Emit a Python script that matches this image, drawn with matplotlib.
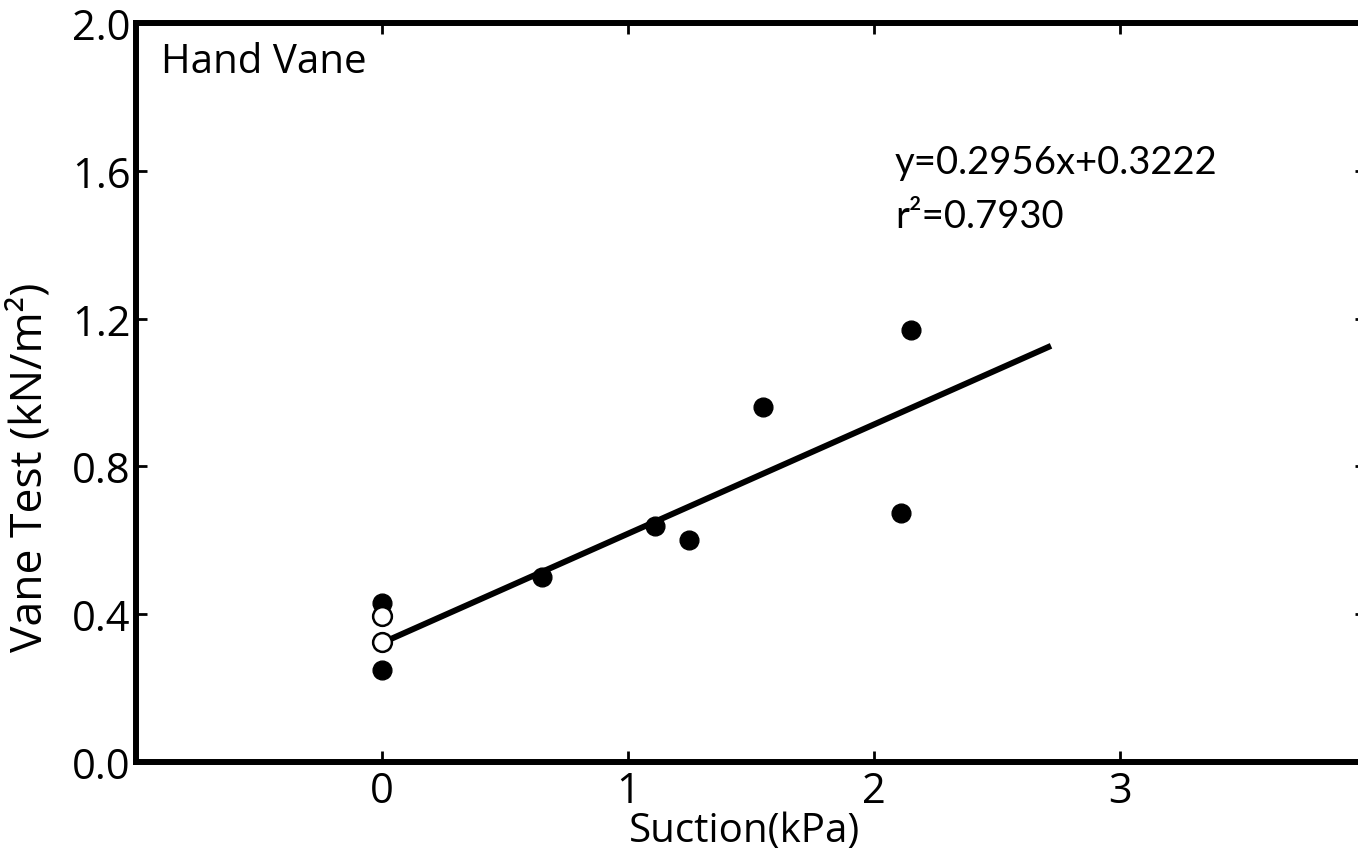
import matplotlib
matplotlib.use("Agg")
import matplotlib.pyplot as plt

# Hand vane test vs. suction
suction_filled = [0.0, 0.0, 0.65, 1.11, 1.25, 1.55, 2.11, 2.15]
vane_filled = [0.43, 0.25, 0.50, 0.64, 0.60, 0.96, 0.675, 1.17]
suction_open = [0.0, 0.0]
vane_open = [0.395, 0.325]

slope = 0.2956
intercept = 0.3222
fit_x = [0.0, 2.72]
fit_y = [slope * x + intercept for x in fit_x]

x_ticks = [0, 1, 2, 3]
y_ticks = [0.0, 0.4, 0.8, 1.2, 1.6, 2.0]

axis_font = ["Open Sans", "DejaVu Sans"]
note_font = ["Lato", "DejaVu Sans"]

fig = plt.figure(figsize=(13.58, 8.53), dpi=100)
ax = fig.add_axes([0.1001, 0.1055, 0.9057, 0.8664])

ax.plot(fit_x, fit_y, color="black", lw=4.3, solid_capstyle="butt", zorder=2)
ax.plot(suction_filled, vane_filled, "o", color="black", ms=13.5, zorder=3)
ax.plot(suction_open, vane_open, "o", mfc="white", mec="black", mew=1.8, ms=13.5, zorder=4)

ax.set_xlim(-1, 4)
ax.set_ylim(0, 2.0)
ax.set_xticks(x_ticks)
ax.set_yticks(y_ticks)
ax.set_xticklabels([str(t) for t in x_ticks], family=axis_font, fontsize=30)
ax.set_yticklabels([f"{t:.1f}" for t in y_ticks], family=axis_font, fontsize=30)
ax.tick_params(direction="in", length=8, width=2, top=True, right=True, pad=4)
ax.tick_params(axis="x", pad=6)
for s in ax.spines.values():
    s.set_linewidth(4.3)

ax.set_xlabel("Suction(kPa)", family=axis_font, fontsize=29)
ax.xaxis.set_label_coords(0.495, -0.066)
ax.set_ylabel("Vane Test (kN/m²)", family=axis_font, fontsize=32)
ax.yaxis.set_label_coords(-0.068, 0.40)

ax.text(0.02, 0.975, "Hand Vane", transform=ax.transAxes, family=axis_font,
        fontsize=29, va="top", ha="left")
ax.text(2.085, 1.625, "y=0.2956x+0.3222", family=note_font, fontsize=27.5, va="center")
ax.text(2.085, 1.478, "r²=0.7930", family=note_font, fontsize=27.5, va="center")

fig.savefig("out.png", dpi=100)
